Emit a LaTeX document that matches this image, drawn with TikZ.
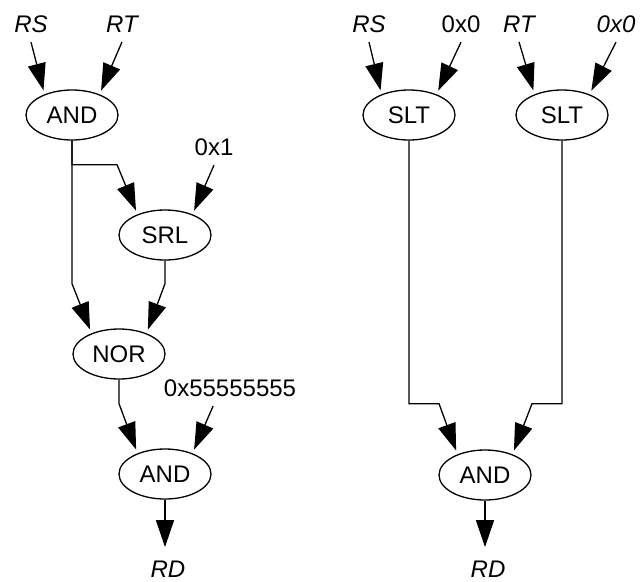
\documentclass[tikz,border=0pt]{standalone}
\usepackage{fontspec}
\setmainfont{Liberation Sans}
\usetikzlibrary{arrows.meta,shapes.geometric}

\begin{document}
\begin{tikzpicture}[x=1pt,y=-1pt,->,>={Triangle[length=27pt,width=18pt]},shorten >=4pt,
  line width=1.3pt,
  op node/.style={ellipse,draw,minimum width=92pt,minimum height=50pt,inner sep=0pt,
                  font=\fontsize{24}{28}\selectfont},
  reg node/.style={inner sep=9pt,font=\fontsize{24}{28}\selectfont\itshape},
  const node/.style={inner sep=9pt,font=\fontsize{24}{28}\selectfont}]

  \useasboundingbox (0,0) rectangle (644,581);

  % left graph
  \node[reg node]   (RS1)  at (31,24)   {RS};
  \node[reg node]   (RT1)  at (122,24)  {RT};
  \node[const node] (C1)   at (214,147) {0x1};
  \node[const node] (C55)  at (230,388) {0x55555555};
  \node[reg node]   (RD1)  at (168,569) {RD};

  \node[op node] (AND1) at (72,115)  {AND};
  \node[op node] (SRL)  at (165,235) {SRL};
  \node[op node] (NOR)  at (119,354) {NOR};
  \node[op node] (AND2) at (165,474) {AND};

  % right graph
  \node[reg node]   (RS2) at (369,24) {RS};
  \node[const node] (C0a) at (461,24) {0x0};
  \node[reg node]   (RT2) at (519,24) {RT};
  \node[reg node]   (C0b) at (616,24) {0x0};
  \node[reg node]   (RD2) at (488,569) {RD};

  \node[op node] (SLT1) at (409,115) {SLT};
  \node[op node] (SLT2) at (562,115) {SLT};
  \node[op node] (AND3) at (485,475) {AND};

  % inputs to left ops
  \draw (RS1.south) -- (AND1.143);
  \draw (RT1.south) -- (AND1.37);
  \draw (AND1.south) -- ++(0,24) -- ++(45,0) -- (SRL.143);
  \draw (C1.south) -- (SRL.37);
  \draw (AND1.south) -- ++(0,143) -- (NOR.143);
  \draw (SRL.south) -- ++(0,23) -- (NOR.37);
  \draw (NOR.south) -- ++(0,24) -- (AND2.143);
  \draw (C55.-133) -- (AND2.37);
  \draw (AND2.south) -- (AND2.south |- RD1.north);

  % inputs to right ops
  \draw (RS2.south) -- (SLT1.143);
  \draw (C0a.south) -- (SLT1.37);
  \draw (RT2.south) -- (SLT2.143);
  \draw (C0b.south) -- (SLT2.37);
  \draw (SLT1.south) -- ++(0,263) -- ++(30,0) -- (AND3.143);
  \draw (SLT2.south) -- ++(0,263) -- ++(-30,0) -- (AND3.37);
  \draw (AND3.south) -- (AND3.south |- RD2.north);

\end{tikzpicture}
\end{document}
